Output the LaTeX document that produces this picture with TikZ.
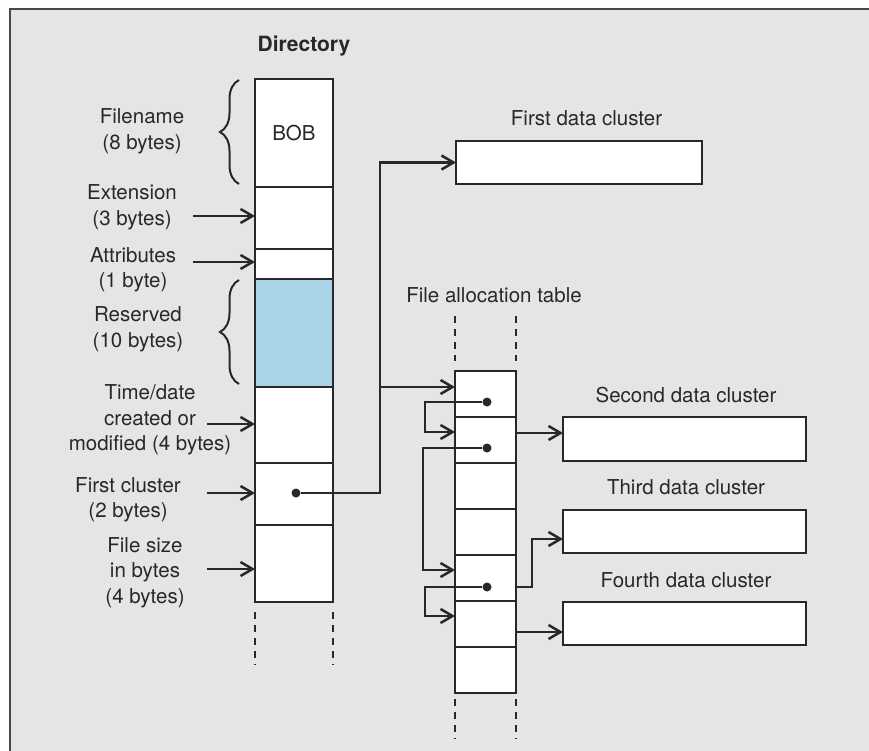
\documentclass[tikz,border=0pt]{standalone}
\usepackage{fontspec}
\setmainfont{TeX Gyre Heros}
\usepackage{xcolor}
\usepackage{tikz}
\usetikzlibrary{arrows.meta,decorations.pathreplacing}
\definecolor{ink}{HTML}{282828}
\definecolor{paper}{HTML}{E6E4E4}
\definecolor{resblue}{HTML}{A9D3E7}

\begin{document}
\begin{tikzpicture}[x=1pt, y=-1pt, font=\fontsize{20.5}{25.5}\selectfont, text=ink,
    cell/.style={draw=ink, line width=2.5pt, fill=white, inner sep=0pt, outer sep=0pt},
    wire/.style={draw=ink, line width=2.5pt},
    arr/.style={wire, -{Straight Barb[length=12pt,width=14pt]}},
    dot/.style={circle, fill=ink, inner sep=0pt, minimum size=9pt},
    guide/.style={draw=ink, line width=1.4pt, dash pattern=on 7pt off 6pt},
    lbl/.style={align=center, inner sep=0pt}]
    \useasboundingbox (0,0) rectangle (869,751);

    % page and frame
    \fill[white!94!paper] (0,0) rectangle (869,751);
    \fill[paper] (10,9) rectangle (869,751);
    \draw[ink!85, line width=1.5pt] (10,751) -- (10,9) -- (869,9);

    % directory entry
    \node[font=\fontsize{21}{25}\selectfont\bfseries] (dirtitle) at (304,46) {Directory};
    \node[cell, minimum width=78, minimum height=108] (d1) at (294,133) {BOB};
    \node[cell, minimum width=78, minimum height=62] (d2) at (294,218) {};
    \node[cell, minimum width=78, minimum height=30] (d3) at (294,264) {};
    \node[cell, fill=resblue, minimum width=78, minimum height=108] (d4) at (294,333) {};
    \node[cell, minimum width=78, minimum height=76] (d5) at (294,425) {};
    \node[cell, minimum width=78, minimum height=62] (d6) at (294,494) {};
    \node[cell, minimum width=78, minimum height=77] (d7) at (294,563.5) {};
    \draw[guide] ([yshift=-10pt]d7.south west) -- ++(0,53);
    \draw[guide] ([yshift=-10pt]d7.south east) -- ++(0,53);

    % field names
    \node[lbl] (lname) at (142,131.5) {Filename\\(8 bytes)};
    \node[lbl] (lext) at (132,207.5) {Extension\\(3 bytes)};
    \node[lbl] (latt) at (133,270) {Attributes\\(1 byte)};
    \node[lbl] (lres) at (138,329.5) {Reserved\\(10 bytes)};
    \node[lbl] (ltime) at (150,420) {Time/date\\created or\\modified (4 bytes)};
    \node[lbl] (lfirst) at (128,500) {First cluster\\(2 bytes)};
    \node[lbl] (lsize) at (145,572.5) {File size\\in bytes\\(4 bytes)};

    \draw[ink, line width=2pt, decorate, decoration={brace, amplitude=19pt}] (239,184) -- (239,80);
    \draw[ink, line width=2pt, decorate, decoration={brace, amplitude=19pt}] (239,384) -- (239,280);

    \coordinate (aext) at (193,216);
    \coordinate (aatt) at (193,262);
    \coordinate (atime) at (207,424);
    \coordinate (afirst) at (207,493);
    \coordinate (asize) at (207,569);
    \draw[arr] (aext) -- (aext -| d2.west);
    \draw[arr] (aatt) -- (aatt -| d3.west);
    \draw[arr] (atime) -- (atime -| d5.west);
    \draw[arr] (afirst) -- (afirst -| d6.west);
    \draw[arr] (asize) -- (asize -| d7.west);

    % file allocation table
    \node (fattitle) at (494,295) {File allocation table};
    \foreach \i in {1,...,7}
      \node[cell, minimum width=61, minimum height=46] (f\i) at (485.5, {371+46*\i-23}) {};
    \draw[guide] ([yshift=55pt]f1.north west) -- ++(0,45);
    \draw[guide] ([yshift=55pt]f1.north east) -- ++(0,45);
    \draw[guide] ([yshift=-6pt]f7.south west) -- ++(0,40);
    \draw[guide] ([yshift=-6pt]f7.south east) -- ++(0,40);

    % data clusters
    \node (c1title) at (586.5,118) {First data cluster};
    \node[cell, minimum width=246, minimum height=43] (c1) at (579,162.5) {};
    \node (c2title) at (686,395) {Second data cluster};
    \node[cell, minimum width=243, minimum height=44] (c2) at (684.5,439) {};
    \node (c3title) at (686,487) {Third data cluster};
    \node[cell, minimum width=243, minimum height=43] (c3) at (684.5,531.5) {};
    \node (c4title) at (686,580) {Fourth data cluster};
    \node[cell, minimum width=243, minimum height=43] (c4) at (684.5,623.5) {};

    % first cluster pointer
    \node[dot] (dp) at (296,493) {};
    \coordinate (jn) at (380,387);
    \draw[arr] (dp) -| (jn) |- (c1.west);
    \draw[arr] (jn) -- (jn -| f1.west);

    % chain through the table
    \node[dot] (p1) at (487,402) {};
    \node[dot] (p2) at (487,448) {};
    \node[dot] (p3) at (487,587) {};
    \draw[arr] (p1) -- ++(-62,0) |- ([yshift=8pt]f2.west);
    \draw[arr] (p2) -- ++(-64,0) |- ([yshift=8pt]f5.west);
    \draw[arr] (p3) -- ++(-62,0) |- ([yshift=8pt]f6.west);

    \draw[arr] ([yshift=7pt]f2.east) -- ([yshift=7pt]f2.east -| c2.west);
    \draw[arr] (p3 -| f5.east) -- ++(16,0) |- ([yshift=-7.5pt]c3.west);
    \draw[arr] ([yshift=-8pt]f6.east) -- ([yshift=-8pt]f6.east -| c4.west);
  \end{tikzpicture}
\end{document}
